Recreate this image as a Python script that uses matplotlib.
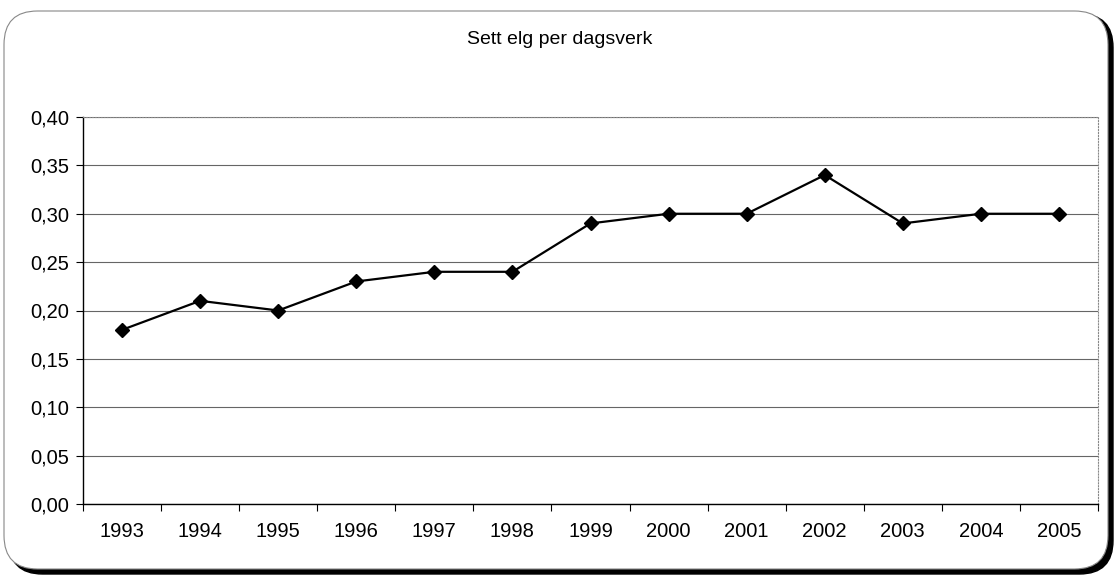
import matplotlib.pyplot as plt
import numpy as np
from matplotlib.patches import FancyBboxPatch

plt.rcParams["font.family"] = ["Liberation Sans", "DejaVu Sans"]

years = ["1993", "1994", "1995", "1996", "1997", "1998", "1999",
         "2000", "2001", "2002", "2003", "2004", "2005"]
sett_elg = [0.18, 0.21, 0.20, 0.23, 0.24, 0.24, 0.29,
            0.30, 0.30, 0.34, 0.29, 0.30, 0.30]
y_ticks = [0.00, 0.05, 0.10, 0.15, 0.20, 0.25, 0.30, 0.35, 0.40]

W, H = 1117, 579
fig = plt.figure(figsize=(W / 100, H / 100), dpi=100)

# rounded chart frame with a dark shadow on bottom/right
shadow = FancyBboxPatch((9 / W, 5 / H), 1104 / W, 560 / H,
                        boxstyle="round,pad=0,rounding_size=0.03",
                        transform=fig.transFigure, facecolor="black",
                        edgecolor="black", lw=1, zorder=0,
                        mutation_aspect=W / H)
frame = FancyBboxPatch((4 / W, 10 / H), 1104 / W, 558 / H,
                       boxstyle="round,pad=0,rounding_size=0.03",
                       transform=fig.transFigure, facecolor="white",
                       edgecolor="#888888", lw=0.8, zorder=1,
                       mutation_aspect=W / H)
fig.patches.extend([shadow, frame])

ax = fig.add_axes([83 / W, 1 - 504 / H, (1098 - 83) / W, (504 - 117) / H])
ax.set_zorder(2)
ax.patch.set_alpha(0)

x = np.arange(len(years))
ax.plot(x, sett_elg, color="black", lw=1.6, marker="D", markersize=7.5,
        markerfacecolor="black", markeredgecolor="black", zorder=3)

ax.set_xlim(-0.5, len(years) - 0.5)
ax.set_ylim(0, 0.40)
ax.set_yticks(y_ticks)
ax.set_yticklabels([f"{v:.2f}".replace(".", ",") for v in y_ticks])
ax.yaxis.grid(True, color="#666666", lw=0.8)
ax.set_axisbelow(True)

ax.set_xticks(x)
ax.set_xticklabels(years)
ax.set_xticks(np.arange(-0.5, len(years)), minor=True)
ax.tick_params(axis="x", which="major", length=0, pad=13, labelsize=14.5)
ax.tick_params(axis="x", which="minor", length=5, width=0.8, direction="out")
ax.tick_params(axis="y", length=5, width=0.8, pad=5, labelsize=14.5)

for side in ["top", "right"]:
    ax.spines[side].set_color("#888888")
    ax.spines[side].set_linestyle(":")
    ax.spines[side].set_linewidth(0.8)
ax.spines["left"].set_color("black")
ax.spines["bottom"].set_color("black")
ax.spines["left"].set_linewidth(1.0)
ax.spines["bottom"].set_linewidth(1.0)

fig.text(560 / W, 1 - 39 / H, "Sett elg per dagsverk", ha="center",
         va="center", fontsize=14)

fig.savefig("out.png", dpi=100)
